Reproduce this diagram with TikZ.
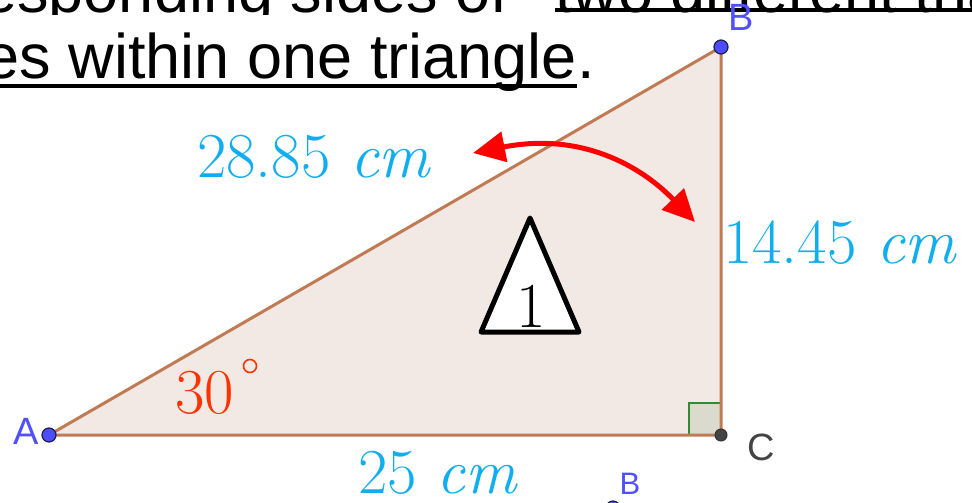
\documentclass[tikz,border=0pt]{standalone}
\usepackage{fontspec}
\newfontfamily\arialf{Liberation Sans}
\usetikzlibrary{arrows.meta}
\definecolor{trifill}{RGB}{242,233,228}
\definecolor{tristroke}{RGB}{192,122,84}
\definecolor{lblcyan}{RGB}{16,174,238}
\definecolor{lblred}{RGB}{255,51,0}
\definecolor{ptblue}{RGB}{77,77,255}
\definecolor{ptedge}{RGB}{30,30,70}
\definecolor{ptlabel}{RGB}{80,80,255}
\definecolor{cgray}{RGB}{68,68,68}
\definecolor{sqgreen}{RGB}{51,140,51}
\definecolor{sqfill}{RGB}{218,219,205}
\tikzset{
  headtext/.style={inner sep=0pt, font=\arialf\fontsize{63}{63}\selectfont},
  measure/.style={inner sep=0pt, text=lblcyan, font=\fontsize{64}{64}\selectfont},
  ptlbl/.style={inner sep=0pt, text=ptlabel, font=\arialf\fontsize{38}{38}\selectfont},
  bluept/.style={circle, fill=ptblue, draw=ptedge, line width=1.2pt, inner sep=0pt, minimum size=14pt},
  uline/.style={line width=4pt, black},
}
\begin{document}
\begin{tikzpicture}[x=1pt,y=-1pt]
\useasboundingbox (0,0) rectangle (972,503);
\clip (0,0) rectangle (972,503);
% header text, first line (cut off at the top)
\begin{scope}
\clip (0,0) rectangle (972,15);
\node[headtext, anchor=base east] (h1a) at (508,13) {corresponding sides of};
\node[headtext, anchor=base west] (h1b) at (555,13) {two different triangles};
\end{scope}
\draw[uline] (555,10) -- (972,10);
% second line
\node[headtext, anchor=base east] (h2) at (577,78) {sides within one triangle};
\node[headtext, anchor=base west] (h2p) at (h2.base east) {.};
\draw[uline] (0,86) -- (577,86);
% triangle
\coordinate (A) at (49,435);
\coordinate (B) at (721,47);
\coordinate (C) at (721,435);
\fill[trifill] (A) -- (B) -- (C) -- cycle;
\draw[sqgreen, fill=sqfill, line width=2.5pt] (689,435) -- (689,403) -- (721,403) -- (721,435) -- cycle;
\draw[tristroke, line width=3pt, line join=round] (A) -- (B) -- (C) -- cycle;
% points
\node[bluept] (pA) at (A) {};
\node[bluept] (pB) at (B) {};
\node[circle, fill=cgray, draw=black!80, line width=1pt, inner sep=0pt, minimum size=12pt] (pC) at (C) {};
\node[bluept] (pB2) at (613,508) {};
\node[ptlbl] (lA) at (26,431) {A};
\node[ptlbl] (lB) at (741,17) {B};
\node[ptlbl, text=cgray] (lC) at (761,447) {C};
\node[ptlbl, font=\arialf\fontsize{31}{31}\selectfont] (lB2) at (630,484) {B};
% measures
\node[measure, anchor=base west] (m1) at (197,177) {28.85 \textit{cm}};
\node[measure, anchor=base west] (m2) at (723,263) {14.45 \textit{cm}};
\node[measure, anchor=base west] (m3) at (358,493) {25 \textit{cm}};
\node[inner sep=0pt, text=lblred, font=\fontsize{64}{64}\selectfont, anchor=base west] (ang) at (175,413) {30};
\node[circle, draw=lblred, line width=1.6pt, inner sep=0pt, minimum size=13pt] (deg) at (250,366) {};
% triangle icon
\coordinate (t1) at (481,332);
\coordinate (t2) at (530,218);
\coordinate (t3) at (579,332);
\draw[fill=white, line width=5pt, line join=round] (t1) -- (t2) -- (t3) -- cycle;
\node[inner sep=0pt, font=\fontsize{64}{64}\selectfont, anchor=base] (one) at (531,327) {1};
% red arrow
\coordinate (r1) at (473,153);
\coordinate (r2) at (695,222);
\draw[red, line width=5pt, {Triangle[length=32pt, width=30pt]}-{Triangle[length=32pt, width=30pt]}]
  (r1) .. controls (580,132) and (640,165) .. (r2);
\end{tikzpicture}
\end{document}
